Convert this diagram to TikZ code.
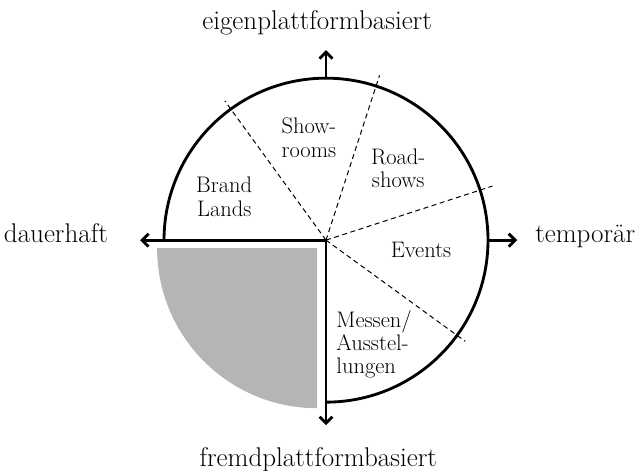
\documentclass[tikz,border=0pt]{standalone}
\usepackage{tikz}
\usepackage{color}
\usetikzlibrary{arrows.meta}
\usetikzlibrary{positioning}

\definecolor{quarter}{RGB}{180,182,181}

\begin{document}
\begin{tikzpicture}
        \tikzstyle{ax}=[line width=2pt, -{Straight Barb[length=4.5pt,width=9pt]}]
        \tikzstyle{rim}=[line width=2pt]
        \tikzstyle{divider}=[line width=0.7pt, dash pattern=on 3.5pt off 2.5pt]
        \tikzstyle{seg}=[font=\fontsize{15.8}{16.4}\selectfont, align=center, inner sep=0pt]
        \tikzstyle{lbl}=[font=\fontsize{19}{22}\selectfont, inner sep=0pt]

        \newcommand{\rad}{4cm}

        \useasboundingbox (-8.05,-5.68) rectangle (7.63,5.93);

        \coordinate (o) at (0,0);
        \coordinate (ctop) at (90:\rad);
        \coordinate (crgt) at (0:\rad);
        \coordinate (clft) at (180:\rad);
        \coordinate (up) at (0,4.69);
        \coordinate (down) at (0,-4.57);
        \coordinate (west) at (-4.59,0);
        \coordinate (east) at (4.72,0);

        % grey quarter, slightly set off
        \coordinate (q) at (-0.22,-0.2);
        \fill[quarter] (q) -- ++(-3.95,0) arc (180:270:3.95) -- cycle;

        % segments
        \foreach \a/\l in {126/4.25, 72/4.28, 18/4.32, -36/4.25}
            \draw[divider] (o) -- (\a:\l);

        \draw[rim] (clft) arc (180:-90:\rad);
        \draw[ax] (o)--(west);
        \draw[ax] (o)--(down);
        \draw[ax] (ctop)--(up);
        \draw[ax] (crgt)--(east);

        \node (brand) [seg] at (157:2.73) {Brand\\Lands};
        \node (show) [seg] at (99.5:2.56) {Show-\\rooms};
        \node (road) [seg] at (45:2.52) {Road-\\shows};
        \node (evt) [seg] at (-6:2.36) {Events};
        \node (mess) [seg, align=left, anchor=west] at (0.25,-2.57) {Messen/\\Ausstel-\\lungen};

        \node (eig) [lbl, anchor=base] at (-0.22,5.21) {eigenplattformbasiert};
        \node (frd) [lbl, anchor=base] at (-0.19,-5.60) {fremdplattformbasiert};
        \node (dau) [lbl, anchor=base east] at (-5.38,-0.07) {dauerhaft};
        \node (tmp) [lbl, anchor=base west] at (5.16,-0.05) {temporär};
\end{tikzpicture}
\end{document}
